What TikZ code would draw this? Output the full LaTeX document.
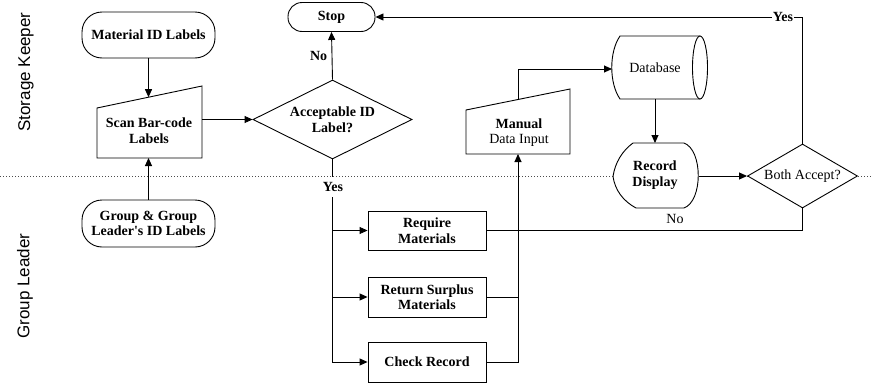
\documentclass[tikz,border=0pt]{standalone}
\usepackage{fontspec}
\setmainfont{Liberation Serif}
\newfontfamily\boxfont{Liberation Serif}
\newfontfamily\lanefont{Liberation Sans}
\usetikzlibrary{shapes.geometric,arrows.meta}
\begin{document}
\begin{tikzpicture}[x=1pt,y=-1pt,
  line width=0.9pt,
  every node/.style={font=\boxfont\fontsize{14}{15.5}\selectfont, align=center},
  bf/.style={font=\boxfont\bfseries\fontsize{14}{15.5}\selectfont},
  arr/.style={-{Triangle[length=8pt,width=7pt]}},
  term/.style={draw, fill=white, bf, inner sep=0pt},
  procbox/.style={draw, fill=white, minimum width=118pt, minimum height=39pt, inner sep=0pt, bf},
  decision/.style={draw, fill=white, diamond, aspect=2, inner sep=0pt},
  lane/.style={font=\lanefont\fontsize{17}{19}\selectfont, rotate=90},
  shapeline/.style={draw, fill=white},
  edgelabel/.style={fill=white, inner sep=2pt, bf}
]
\useasboundingbox (0,0) rectangle (873,383);

% lane separator
\draw[black!70, line width=0.7pt, dash pattern=on 1pt off 2pt] (0,176) -- (873,176);

% lane labels
\node[lane] (lane1) at (26,72) {Storage Keeper};
\node[lane] (lane2) at (25,286) {Group Leader};

% terminals
\node[term, rounded corners=20pt, minimum width=133pt, minimum height=46pt] (mat) at (148.5,35) {Material ID Labels};
\node[term, rounded corners=20pt, minimum width=133pt, minimum height=47pt] (grp) at (148.5,223.5) {Group \& Group\\Leader's ID Labels};
\node[term, rounded corners=14pt, minimum width=87pt, minimum height=29pt] (stop) at (331.5,17) {Stop};

% scan (manual input shape)
\path[shapeline] (97,108) -- (202,86) -- (202,158) -- (97,158) -- cycle;
\node[bf] (scan) at (149,130.5) {Scan Bar-code\\Labels};
\coordinate (scantop) at (148.5,97.2);
\coordinate (scanbot) at (148.5,158);
\coordinate (scanright) at (202,119.5);

% manual data input
\path[shapeline] (466,110) -- (570,89) -- (570,154) -- (466,154) -- cycle;
\node (man) at (519,132.5) {\bfseries Manual\\Data Input};
\coordinate (mantop) at (518,99.5);
\coordinate (manbot) at (518,154);

% database
\path[shapeline] (700,36) -- (620,36) .. controls (609,52) and (609,83) .. (620,99) -- (700,99) -- cycle;
\draw[fill=white] (700,67.5) ellipse [x radius=7.5pt, y radius=31.5pt];
\node (db) at (655,68) {Database};
\coordinate (dbwest) at (612,69);
\coordinate (dbsouth) at (655,99);

% record display
\path[shapeline] (633,143) -- (684,143) .. controls (703,150) and (703,201) .. (684,208) -- (636,208) .. controls (623,201) and (615,190) .. (613,176.5) .. controls (615,163) and (622,151) .. cycle;
\node[font=\boxfont\bfseries\fontsize{14}{16}\selectfont] (rd) at (655,175) {Record\\Display};
\coordinate (rdnorth) at (655,143);
\coordinate (rdeast) at (698.5,176);

% decisions
\node[decision, minimum width=159pt, minimum height=79pt, bf] (acc) at (332.5,119.5) {Acceptable ID\\Label?};
\node[decision, minimum width=110pt, minimum height=64pt] (both) at (802.5,176) {Both Accept?};

% process boxes
\node[procbox] (req) at (427,230.5) {Require\\Materials};
\node[procbox, minimum height=40pt] (ret) at (427,297) {Return Surplus\\Materials};
\node[procbox, minimum height=40pt] (chk) at (427,362) {Check Record};

% connectors
\draw[arr] (mat.south) -- (scantop);
\draw[arr] (grp.north) -- (scanbot);
\draw[arr] (scanright) -- (acc.west);
\draw[arr] (acc.north) -- node[pos=0.5, left=1pt, bf] (nolbl) {No} (stop.south);

\draw[arr] (acc.south) |- (chk.west);
\draw[arr] (acc.south |- req.west) -- (req.west);
\draw[arr] (acc.south |- ret.west) -- (ret.west);
\node[edgelabel, minimum height=20pt] (yes1) at (333,187) {Yes};

\draw (ret.east) -- (ret.east -| manbot);
\draw[arr] (chk.east) -| (manbot);
\draw[arr] (mantop) |- (dbwest);
\draw[arr] (dbsouth) -- (rdnorth);
\draw[arr] (rdeast) -- (both.west);

\draw[arr] (both.north) |- (stop.east);
\node[edgelabel, inner sep=1pt] (yes2) at (783,17) {Yes};

\draw (both.south) |- (req.east);
\node[fill=white, inner sep=1pt] (no2) at (675,219) {No};
\end{tikzpicture}
\end{document}
